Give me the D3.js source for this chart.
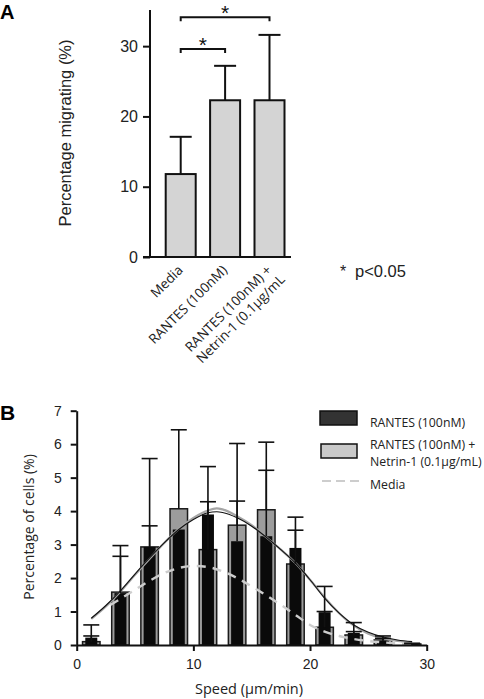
<!DOCTYPE html>
<html><head><meta charset="utf-8">
<script src="https://cdn.jsdelivr.net/npm/d3@7"></script>
<style>body{margin:0;background:#fff} svg{display:block}</style>
</head><body><svg id="c" width="484" height="699"></svg>
<script>
// ---------- Panel A data ----------
const catsA = ["Media", "RANTES (100nM)", "RANTES (100nM) +|Netrin-1 (0.1μg/mL"];
const migrating = [11.8, 22.3, 22.3];
const migratingSD = [5.3, 4.9, 9.3];
const ticksA = [0, 10, 20, 30];
const sigPairs = [[0, 1, 29.6], [0, 2, 34.1]];

// ---------- Panel B data ----------
const binCenters = [1.25, 3.75, 6.25, 8.75, 11.25, 13.75, 16.25, 18.75, 21.25, 23.75, 26.25, 28.75];
const rantesPct = [0.22, 1.55, 2.93, 3.45, 3.9, 3.1, 3.25, 2.9, 0.98, 0.36, 0.12, 0.03];
const rantesSD  = [0.38, 1.42, 2.64, 0, 1.43, 2.92, 2.81, 0.92, 0.77, 0.31, 0.15, 0.02];
const netrinPct = [0.1, 1.58, 2.93, 4.07, 2.85, 3.58, 4.04, 2.42, 0.53, 0.3, 0.15, 0.03];
const netrinSD  = [0.17, 1.07, 0.63, 2.36, 1.43, 0.72, 1.18, 1.01, 0.47, 0.1, 0.05, 0.01];

const fitX = [1.25, 2.5, 3.75, 5, 6.25, 7.5, 8.75, 10, 11.25, 12, 12.5, 13.75, 15, 16.25, 17.5, 18.75, 20, 21.25, 22.5, 23.75, 25, 26.25, 27.5, 28.75];
const rantesFit = [0.8, 1.18, 1.62, 2.12, 2.6, 3.05, 3.45, 3.75, 3.95, 3.98, 3.96, 3.8, 3.55, 3.22, 2.85, 2.45, 1.95, 1.4, 0.95, 0.6, 0.38, 0.24, 0.15, 0.1];
const netrinFit = [0.78, 1.15, 1.6, 2.1, 2.58, 3.05, 3.47, 3.8, 4.02, 4.08, 4.05, 3.85, 3.58, 3.22, 2.85, 2.45, 1.95, 1.42, 0.95, 0.58, 0.34, 0.2, 0.12, 0.08];
const mediaX = [2.9, 3.75, 5, 6.25, 7.5, 8.75, 10, 11.25, 12.5, 13.75, 15, 16.25, 17.5, 18.75, 20, 21.25, 22.5, 23.75, 25, 26.25, 27.5, 28.75];
const mediaFit = [1.2, 1.38, 1.65, 1.92, 2.15, 2.3, 2.36, 2.33, 2.2, 2.0, 1.75, 1.48, 1.2, 0.9, 0.6, 0.4, 0.27, 0.18, 0.12, 0.08, 0.05, 0.03];
const ticksBy = [0, 1, 2, 3, 4, 5, 6, 7];
const ticksBx = [0, 10, 20, 30];
const legendLabels = ["RANTES (100nM)", "RANTES (100nM) +|Netrin-1 (0.1μg/mL)", "Media"];

const svg = d3.select("#c");
const sans = "'Liberation Sans', Arial, sans-serif";
const myriad = "'Open Sans', 'Noto Sans', sans-serif";

// ================= PANEL A =================
const A = svg.append("g");
const yA = d3.scaleLinear().domain([0, 35]).range([257, 11]);
const xA = d3.scalePoint().domain(catsA).range([180.7, 269.5]);
const barWA = 30;

A.append("text").attr("x", 0).attr("y", 19).text("A")
  .attr("font-family", sans).attr("font-weight", "bold").attr("font-size", 20);

A.selectAll("rect.bar").data(catsA).join("rect")
  .attr("x", d => xA(d) - barWA / 2).attr("width", barWA)
  .attr("y", (d, i) => yA(migrating[i])).attr("height", (d, i) => yA(0) - yA(migrating[i]))
  .attr("fill", "#d4d4d4").attr("stroke", "#111").attr("stroke-width", 2);
catsA.forEach((c, i) => {
  const top = yA(migrating[i] + migratingSD[i]);
  A.append("line").attr("x1", xA(c)).attr("x2", xA(c)).attr("y1", yA(migrating[i])).attr("y2", top)
    .attr("stroke", "#111").attr("stroke-width", 2);
  A.append("line").attr("x1", xA(c) - 11).attr("x2", xA(c) + 11).attr("y1", top).attr("y2", top)
    .attr("stroke", "#111").attr("stroke-width", 2);
});
const axA = A.append("g").attr("transform", "translate(150,0)")
  .call(d3.axisLeft(yA).tickValues(ticksA).tickSize(7).tickPadding(5));
axA.select(".domain").remove();
axA.selectAll(".tick line").attr("stroke", "#111").attr("stroke-width", 2);
axA.selectAll(".tick text").attr("font-family", sans).attr("font-size", 16).attr("fill", "#222");
A.append("line").attr("x1", 150).attr("x2", 150).attr("y1", 10).attr("y2", 258).attr("stroke", "#111").attr("stroke-width", 2);
A.append("line").attr("x1", 143).attr("x2", 291).attr("y1", 257).attr("y2", 257).attr("stroke", "#111").attr("stroke-width", 2);

A.append("text").attr("transform", "translate(71,133) rotate(-90)").attr("text-anchor", "middle")
  .attr("font-family", sans).attr("font-size", 16.5).attr("fill", "#222").text("Percentage migrating (%)");

catsA.forEach(c => {
  const lines = c.split("|");
  const g = A.append("g").attr("transform", `translate(${xA(c) + 3},${271}) rotate(-45)`);
  const t1 = g.append("text").attr("font-family", myriad).attr("font-size", 13.5).attr("fill", "#222").text(lines[0]);
  const len = t1.node().getComputedTextLength();
  t1.attr("x", -len);
  if (lines[1]) {
    g.append("text").attr("x", -len).attr("y", 16).attr("font-family", myriad).attr("font-size", 13.5)
      .attr("fill", "#222").text(lines[1]);
  }
});

sigPairs.forEach(([a, b, v]) => {
  const x1 = xA(catsA[a]), x2 = xA(catsA[b]), y = yA(v);
  A.append("path").attr("d", `M${x1},${y + 4}V${y}H${x2}V${y + 4}`).attr("fill", "none")
    .attr("stroke", "#111").attr("stroke-width", 2);
  A.append("text").attr("x", (x1 + x2) / 2).attr("y", y + 3).attr("text-anchor", "middle")
    .attr("font-family", sans).attr("font-size", 21).attr("fill", "#111").text("*");
});
A.append("text").attr("x", 340).attr("y", 277).attr("font-family", sans).attr("font-size", 16)
  .attr("fill", "#222").text("*");
A.append("text").attr("x", 355).attr("y", 277).attr("font-family", sans).attr("font-size", 16.5)
  .attr("fill", "#222").text("p<0.05");

// ================= PANEL B =================
const B = svg.append("g");
const xB = d3.scaleLinear().domain([0, 30]).range([76.7, 426.7]);
const yB = d3.scaleLinear().domain([0, 7]).range([645, 410.7]);
const grayW = xB(1.5) - xB(0), blackW = 12;

B.append("text").attr("x", 0).attr("y", 420).text("B")
  .attr("font-family", sans).attr("font-weight", "bold").attr("font-size", 21);

B.selectAll("rect.g").data(binCenters).join("rect")
  .attr("x", d => xB(d) - grayW / 2).attr("width", grayW)
  .attr("y", (d, i) => yB(netrinPct[i])).attr("height", (d, i) => yB(0) - yB(netrinPct[i]))
  .attr("fill", "#9c9c9c").attr("stroke", "#1a1a1a").attr("stroke-width", 1.5);
B.selectAll("rect.k").data(binCenters).join("rect")
  .attr("x", d => xB(d) - blackW / 2).attr("width", blackW)
  .attr("y", (d, i) => yB(rantesPct[i])).attr("height", (d, i) => yB(0) - yB(rantesPct[i]))
  .attr("fill", "#0a0a0a");

const lineFit = (xs) => d3.line().x((d, i) => xB(xs[i])).y(d => yB(d)).curve(d3.curveMonotoneX);
B.append("path").attr("d", lineFit(fitX)(netrinFit)).attr("fill", "none").attr("stroke", "#a5a5a5").attr("stroke-width", 2.2);
B.append("path").attr("d", lineFit(fitX)(rantesFit)).attr("fill", "none").attr("stroke", "#111").attr("stroke-width", 1.1);
B.append("path").attr("d", lineFit(mediaX)(mediaFit)).attr("fill", "none").attr("stroke", "#cdcdcd")
  .attr("stroke-width", 2.4).attr("stroke-dasharray", "9,7");

binCenters.forEach((c, i) => {
  [[rantesPct[i], rantesSD[i]], [netrinPct[i], netrinSD[i]]].forEach(([v, sd]) => {
    if (sd <= 0) return;
    const top = yB(v + sd);
    B.append("line").attr("x1", xB(c)).attr("x2", xB(c)).attr("y1", yB(v)).attr("y2", top)
      .attr("stroke", "#111").attr("stroke-width", 1.6);
    B.append("line").attr("x1", xB(c) - 8).attr("x2", xB(c) + 8).attr("y1", top).attr("y2", top)
      .attr("stroke", "#111").attr("stroke-width", 1.6);
  });
});

const axBy = B.append("g").attr("transform", "translate(76.7,0)")
  .call(d3.axisLeft(yB).tickValues(ticksBy).tickFormat(d3.format("d")).tickSize(6).tickPadding(9).tickSizeOuter(0));
const axBx = B.append("g").attr("transform", "translate(0,645)")
  .call(d3.axisBottom(xB).tickValues(ticksBx).tickFormat(d3.format("d")).tickSize(6).tickPadding(8).tickSizeOuter(0));
[axBy, axBx].forEach(ax => {
  ax.select(".domain").attr("stroke", "#111").attr("stroke-width", 2);
  ax.selectAll(".tick line").attr("stroke", "#111").attr("stroke-width", 2);
  ax.selectAll(".tick text").attr("font-family", sans).attr("font-size", 14).attr("fill", "#222");
});
B.append("text").attr("transform", "translate(34,527) rotate(-90)").attr("text-anchor", "middle")
  .attr("font-family", myriad).attr("font-size", 14).attr("fill", "#222").text("Percentage of cells (%)");
B.append("text").attr("x", 249).attr("y", 694).attr("text-anchor", "middle")
  .attr("font-family", myriad).attr("font-size", 14.5).attr("fill", "#222").text("Speed (μm/min)");

const L = B.append("g");
L.append("rect").attr("x", 320).attr("y", 411).attr("width", 37).attr("height", 14)
  .attr("fill", "#333").attr("stroke", "#111").attr("stroke-width", 1.5);
L.append("rect").attr("x", 321).attr("y", 444).attr("width", 36).attr("height", 14)
  .attr("fill", "#c9c9c9").attr("stroke", "#111").attr("stroke-width", 1.5);
L.append("line").attr("x1", 322).attr("x2", 360).attr("y1", 481).attr("y2", 481)
  .attr("stroke", "#cdcdcd").attr("stroke-width", 2).attr("stroke-dasharray", "9,5");
const legY = [427, 449, 489];
legendLabels.forEach((lab, i) => {
  lab.split("|").forEach((ln, j) => {
    L.append("text").attr("x", 370).attr("y", legY[i] + j * 17).attr("font-family", myriad)
      .attr("font-size", 12.3).attr("fill", "#222").text(ln);
  });
});
</script></body></html>
